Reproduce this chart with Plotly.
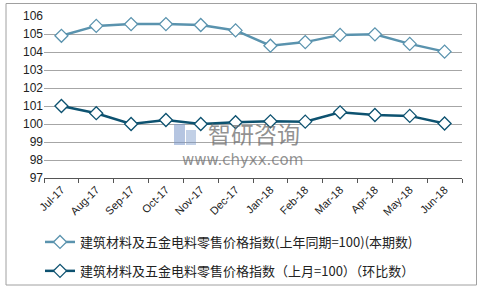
import plotly.graph_objects as go

months = ["Jul-17", "Aug-17", "Sep-17", "Oct-17", "Nov-17", "Dec-17",
          "Jan-18", "Feb-18", "Mar-18", "Apr-18", "May-18", "Jun-18"]
yoy = [104.9, 105.45, 105.55, 105.55, 105.5, 105.2, 104.35, 104.55, 104.95, 104.98, 104.45, 104.02]
mom = [101.0, 100.6, 100.0, 100.22, 100.0, 100.1, 100.15, 100.13, 100.65, 100.5, 100.45, 100.03]
name_yoy = "建筑材料及五金电料零售价格指数(上年同期=100)(本期数)"
name_mom = "建筑材料及五金电料零售价格指数（上月=100）（环比数）"
y_ticks = [97, 98, 99, 100, 101, 102, 103, 104, 105, 106]

W, H = 483, 290
L, R, T, B = 44, 21, 16, 112
pw, ph = W - L - R, H - T - B

def px(x):
    return (x - L) / pw

def py(y):
    return (H - B - y) / ph

fig = go.Figure()
fig.add_trace(go.Scatter(
    x=months, y=yoy, name=name_yoy, mode="lines+markers",
    line=dict(color="#5A93AE", width=2.5),
    marker=dict(symbol="diamond", size=10, color="white",
                line=dict(color="#5A93AE", width=1.3)),
    legendgroup="a"))
fig.add_trace(go.Scatter(
    x=months, y=mom, name=name_mom, mode="lines+markers",
    line=dict(color="#0D5270", width=2.5),
    marker=dict(symbol="diamond", size=10, color="white",
                line=dict(color="#0D5270", width=1.3)),
    legendgroup="b"))

font = "Liberation Sans, Noto Sans CJK SC, sans-serif"

fig.update_layout(
    width=W, height=H,
    margin=dict(l=L, r=R, t=T, b=B, autoexpand=False),
    paper_bgcolor="white", plot_bgcolor="white",
    font=dict(family=font, size=11, color="#222"),
    showlegend=True,
    legend=dict(x=40 / W, y=1 - 227 / H, xref="container", yref="container",
                xanchor="left", yanchor="top",
                orientation="v", tracegroupgap=9,
                font=dict(size=13, family="Noto Sans CJK SC, sans-serif", color="#222"),
                bgcolor="rgba(0,0,0,0)", itemwidth=30),
    xaxis=dict(type="category", range=[-0.5, 11.5], showgrid=False,
               showline=True, linecolor="#555", linewidth=1,
               ticks="outside", tickson="boundaries", ticklen=4, tickcolor="#555",
               tickangle=-45, tickfont=dict(size=11)),
    yaxis=dict(range=[97, 106], tickvals=y_ticks, showgrid=True,
               gridcolor="#A6A6A6", gridwidth=1, zeroline=False,
               showline=False, tickfont=dict(size=12), ticks=""),
    shapes=[
        dict(type="rect", xref="paper", yref="paper",
             x0=px(6), x1=px(476.5), y0=py(285), y1=py(3.5),
             line=dict(color="#A0A0A0", width=1), fillcolor="rgba(0,0,0,0)", layer="below"),
        dict(type="rect", xref="paper", yref="paper",
             x0=px(174), x1=px(185), y0=py(145), y1=py(124),
             line=dict(width=0), fillcolor="rgba(120,150,200,0.55)"),
        dict(type="rect", xref="paper", yref="paper",
             x0=px(186), x1=px(196), y0=py(145), y1=py(130),
             line=dict(width=0), fillcolor="rgba(120,150,200,0.45)"),
    ],
    annotations=[
        dict(text="智研咨询", xref="paper", yref="paper", x=px(254), y=py(133),
             xanchor="center", yanchor="middle",
             showarrow=False, font=dict(size=23, color="rgba(110,110,110,0.75)",
                                        family="Noto Sans CJK SC")),
        dict(text="www.chyxx.com", xref="paper", yref="paper", x=px(242), y=py(160),
             xanchor="center", yanchor="middle",
             showarrow=False, font=dict(size=15, color="rgba(110,110,110,0.75)",
                                        family="DejaVu Sans")),
    ],
)

fig.write_html("out.html")
